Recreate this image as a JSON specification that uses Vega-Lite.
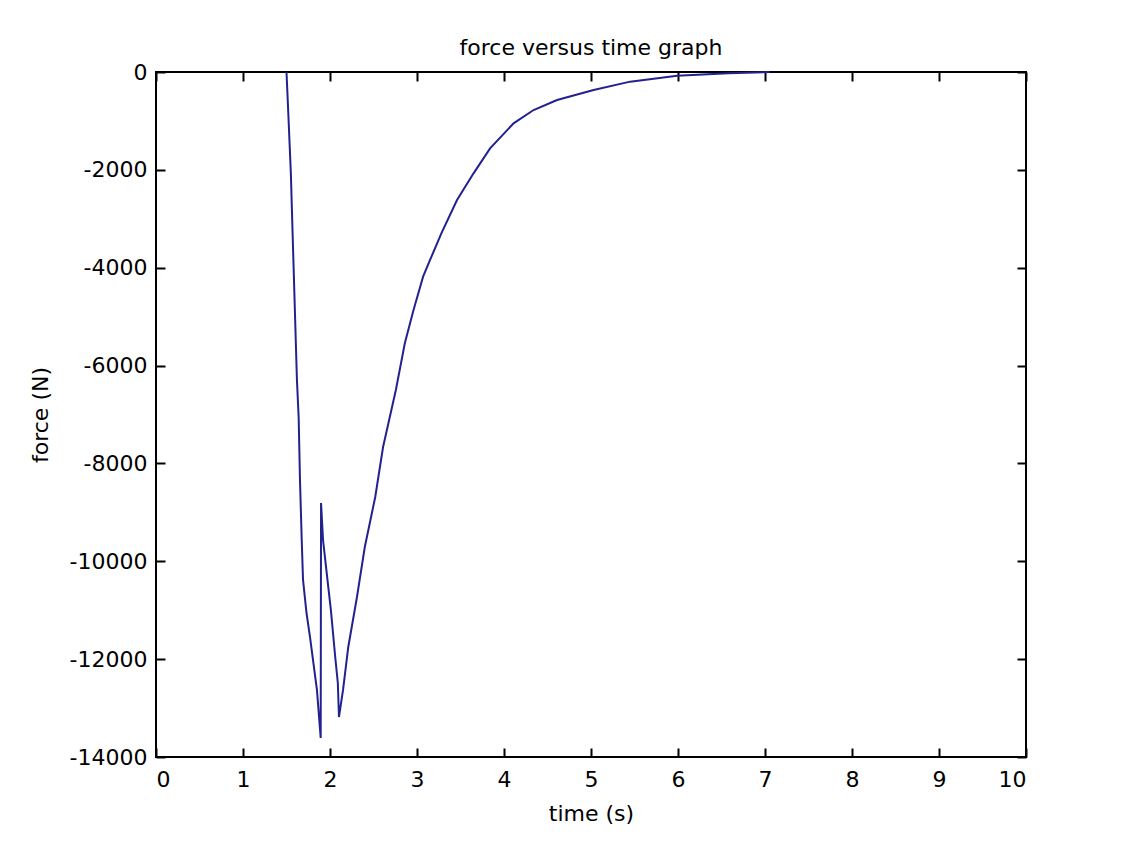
{
  "$schema": "https://vega.github.io/schema/vega-lite/v6.json",
  "width": 870,
  "height": 685,
  "autosize": {"type": "none"},
  "padding": {"left": 156, "top": 72, "right": 99, "bottom": 86},
  "background": "white",
  "title": {"text": "force versus time graph", "fontSize": 22, "font": "DejaVu Sans", "fontWeight": "normal", "color": "black", "offset": 1},
  "data": {"values": [
    {"t": 1.50, "f": 0}, {"t": 1.52, "f": -817}, {"t": 1.55, "f": -2064}, {"t": 1.57, "f": -3290},
    {"t": 1.62, "f": -6295}, {"t": 1.64, "f": -7071}, {"t": 1.655, "f": -8338}, {"t": 1.675, "f": -9565},
    {"t": 1.69, "f": -10382}, {"t": 1.73, "f": -11057}, {"t": 1.77, "f": -11547}, {"t": 1.80, "f": -11956},
    {"t": 1.85, "f": -12630}, {"t": 1.893, "f": -13611}, {"t": 1.897, "f": -8808}, {"t": 1.92, "f": -9565},
    {"t": 1.98, "f": -10525}, {"t": 2.01, "f": -10995}, {"t": 2.06, "f": -11956}, {"t": 2.09, "f": -12487},
    {"t": 2.103, "f": -13182}, {"t": 2.15, "f": -12630}, {"t": 2.21, "f": -11751}, {"t": 2.31, "f": -10730},
    {"t": 2.40, "f": -9708}, {"t": 2.52, "f": -8686}, {"t": 2.61, "f": -7664}, {"t": 2.757, "f": -6500},
    {"t": 2.86, "f": -5545}, {"t": 2.96, "f": -4864}, {"t": 3.07, "f": -4183}, {"t": 3.15, "f": -3842},
    {"t": 3.28, "f": -3297}, {"t": 3.46, "f": -2616}, {"t": 3.65, "f": -2071}, {"t": 3.84, "f": -1560},
    {"t": 4.11, "f": -1049}, {"t": 4.34, "f": -777}, {"t": 4.61, "f": -572}, {"t": 5.03, "f": -368},
    {"t": 5.45, "f": -197}, {"t": 5.99, "f": -75}, {"t": 6.58, "f": -27}, {"t": 7.05, "f": 0}
  ]},
  "layer": [
    {
      "mark": {"type": "line", "color": "#22228f", "strokeWidth": 2},
      "encoding": {
        "x": {"field": "t", "type": "quantitative", "scale": {"domain": [0, 10], "nice": false, "zero": false},
              "axis": {"orient": "bottom", "title": "time (s)", "values": [0,1,2,3,4,5,6,7,8,9,10], "format": "d", "labelPadding": 21, "titlePadding": 13}},
        "y": {"field": "f", "type": "quantitative", "scale": {"domain": [-14000, 0], "nice": false, "zero": false},
              "axis": {"orient": "left", "title": "force (N)", "values": [-14000,-12000,-10000,-8000,-6000,-4000,-2000,0],
                       "labelExpr": "datum.value == 0 ? '0' : '-' + format(abs(datum.value), 'd')", "labelPadding": 18, "titlePadding": 17}}
      }
    },
    {
      "mark": {"type": "line", "opacity": 0},
      "encoding": {
        "x": {"field": "t", "type": "quantitative", "axis": {"orient": "top", "title": null, "labels": false, "values": [0,1,2,3,4,5,6,7,8,9,10]}},
        "y": {"field": "f", "type": "quantitative", "axis": {"orient": "right", "title": null, "labels": false, "values": [-14000,-12000,-10000,-8000,-6000,-4000,-2000,0]}}
      }
    }
  ],
  "resolve": {"axis": {"x": "independent", "y": "independent"}},
  "config": {
    "view": {"stroke": "black", "strokeWidth": 2},
    "axis": {
      "domain": false, "grid": false,
      "ticks": true, "tickSize": -9, "tickColor": "black", "tickWidth": 2,
      "labelFont": "DejaVu Sans", "labelFontSize": 22, "labelColor": "black",
      "titleFont": "DejaVu Sans", "titleFontSize": 22, "titleFontWeight": "normal", "titleColor": "black"
    }
  }
}
